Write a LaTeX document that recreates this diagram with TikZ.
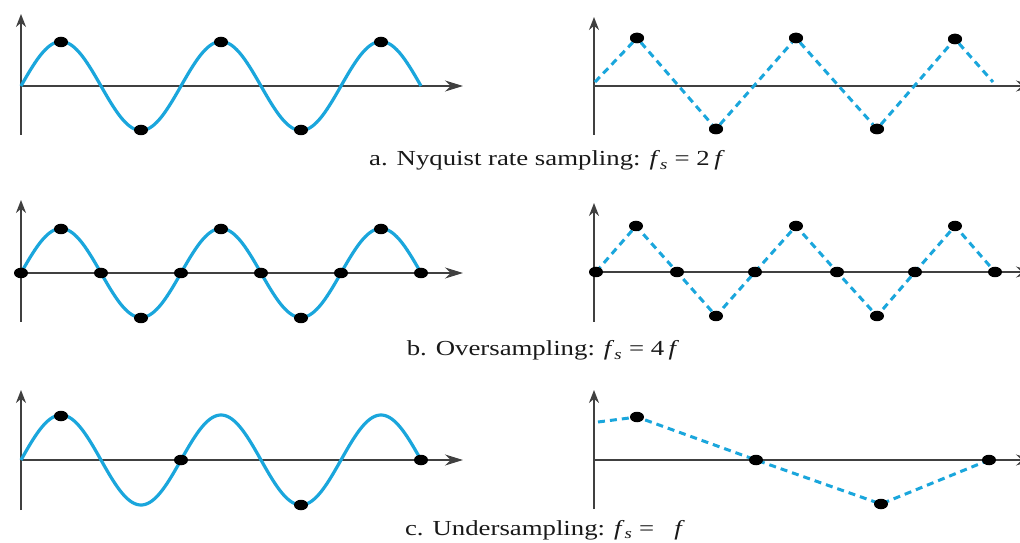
\documentclass[tikz,border=0pt]{standalone}
\usepackage{fontspec}
\setmainfont{Liberation Serif}
\usetikzlibrary{arrows.meta,shapes.geometric}
\definecolor{wave}{HTML}{1AA6DC}
\definecolor{axisgray}{HTML}{404040}
\tikzset{
  axisline/.style={draw=axisgray, line width=1.7bp},
  xax/.style={axisline, -{Stealth[length=18bp,width=11bp]}},
  yax/.style={axisline, -{Stealth[length=13bp,width=10bp]}},
  sine/.style={draw=wave, line width=3.2bp},
  dashline/.style={draw=wave, line width=3bp, dash pattern=on 7bp off 5bp},
  dot/.style={ellipse, fill=black, draw=none, minimum width=14bp, minimum height=10.5bp, inner sep=0pt},
  caption/.style={font=\fontsize{21.5}{26}\selectfont, anchor=base, inner sep=0pt, text=black!90},
}
\newcommand{\fsub}{\textit{f}\textsubscript{\textit{s}}}
\begin{document}
\begin{tikzpicture}[x=1bp, y=-1bp]
\useasboundingbox (0,0) rectangle (1020,543);
\clip (0,0) rectangle (1020,543);
\fill[white] (0,0) rectangle (1020,543);

% ---------- Row a ----------
\draw[yax] (21,135) -- (21,14);
\draw[xax] (21,86) -- (463,86);
\draw[sine] plot[domain=0:400, samples=201, smooth] ({21+\x}, {86-44.5*sin(\x*2.25)});
\node[dot] (a1) at (61,42) {};
\node[dot] (a2) at (141,130) {};
\node[dot] (a3) at (221,42) {};
\node[dot] (a4) at (301,130) {};
\node[dot] (a5) at (381,42) {};

\draw[yax] (594,135) -- (594,17);
\draw[xax] (594,86) -- (1034,86);
\coordinate (ra0) at (595,82);
\coordinate (ra6) at (993,82);
\node[dot] (ra1) at (637,38) {};
\node[dot] (ra2) at (716,129) {};
\node[dot] (ra3) at (796,38) {};
\node[dot] (ra4) at (877,129) {};
\node[dot] (ra5) at (955,39) {};
\draw[dashline] (ra0) -- (ra1) -- (ra2) -- (ra3) -- (ra4) -- (ra5) -- (ra6);
\node[dot] at (ra1) {};\node[dot] at (ra2) {};\node[dot] at (ra3) {};\node[dot] at (ra4) {};\node[dot] at (ra5) {};

\node[caption] (capa) at (547,166) {\scalebox{1.25}[1]{a. Nyquist rate sampling: \fsub\ = 2\,\textit{f}}};

% ---------- Row b ----------
\draw[yax] (21,322) -- (21,200);
\draw[xax] (21,273) -- (463,273);
\draw[sine] plot[domain=0:400, samples=201, smooth] ({21+\x}, {273-44.5*sin(\x*2.25)});
\node[dot] (b0) at (21,273) {};
\node[dot] (b1) at (61,229) {};
\node[dot] (b2) at (101,273) {};
\node[dot] (b3) at (141,318) {};
\node[dot] (b4) at (181,273) {};
\node[dot] (b5) at (221,229) {};
\node[dot] (b6) at (261,273) {};
\node[dot] (b7) at (301,318) {};
\node[dot] (b8) at (341,273) {};
\node[dot] (b9) at (381,229) {};
\node[dot] (b10) at (421,273) {};

\draw[yax] (594,322) -- (594,203);
\draw[xax] (594,272) -- (1034,272);
\coordinate (q0) at (596,272);
\coordinate (q1) at (636,226);
\coordinate (q2) at (677,272);
\coordinate (q3) at (716,316);
\coordinate (q4) at (755,272);
\coordinate (q5) at (796,226);
\coordinate (q6) at (837,272);
\coordinate (q7) at (877,316);
\coordinate (q8) at (915,272);
\coordinate (q9) at (955,226);
\coordinate (q10) at (995,272);
\draw[dashline] (q0) -- (q1) -- (q2) -- (q3) -- (q4) -- (q5) -- (q6) -- (q7) -- (q8) -- (q9) -- (q10);
\foreach \i in {0,...,10} { \node[dot] (rb\i) at (q\i) {}; }

\node[caption] (capb) at (543,356) {\scalebox{1.25}[1]{b. Oversampling: \fsub\ = 4\,\textit{f}}};

% ---------- Row c ----------
\draw[yax] (21,510) -- (21,390);
\draw[xax] (21,460) -- (463,460);
\draw[sine] plot[domain=0:400, samples=201, smooth] ({21+\x}, {460-45*sin(\x*2.25)});
\node[dot] (c1) at (61,416) {};
\node[dot] (c2) at (181,460) {};
\node[dot] (c3) at (301,505) {};
\node[dot] (c4) at (421,460) {};

\draw[yax] (594,509) -- (594,390);
\draw[xax] (594,460) -- (1034,460);
\coordinate (rc0) at (598,422);
\coordinate (p1) at (637,417);
\coordinate (p2) at (756,460);
\coordinate (p3) at (881,504);
\coordinate (p4) at (989,460);
\draw[dashline] (rc0) -- (p1) -- (p2) -- (p3) -- (p4);
\node[dot] (rc1) at (p1) {};
\node[dot] (rc2) at (p2) {};
\node[dot] (rc3) at (p3) {};
\node[dot] (rc4) at (p4) {};

\node[caption] (capc) at (545,535.5) {\scalebox{1.25}[1]{c. Undersampling: \fsub\ = \enspace\textit{f}}};
\end{tikzpicture}
\end{document}
